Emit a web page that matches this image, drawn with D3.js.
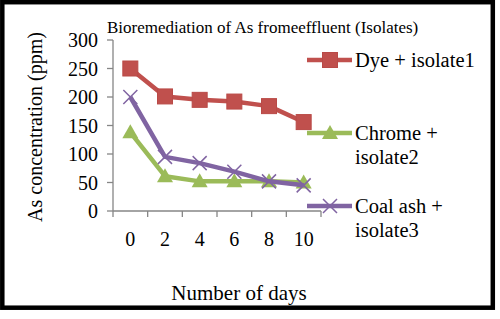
<!DOCTYPE html>
<html lang="en">
<head>
<meta charset="UTF-8">
<title>Bioremediation of As</title>
<script src="https://d3js.org/d3.v7.min.js"></script>
<style>
  body { margin: 0; background: #fff; }
  text { font-family: "Liberation Serif", "Times New Roman", serif; fill: #000; }
</style>
</head>
<body>
<div id="chart"></div>
<script>
const days = ["0", "2", "4", "6", "8", "10"];
const dye = [250, 201, 195, 192, 184, 156];
const chrome = [138, 61, 52, 52, 52, 50];
const coal = [200, 95, 84, 69, 52, 45];
const yTicks = [0, 50, 100, 150, 200, 250, 300];

const series = [
  { name: ["Dye + isolate1"], values: dye, color: "#C0504D", shape: "square" },
  { name: ["Chrome +", "isolate2"], values: chrome, color: "#9BBB59", shape: "triangle" },
  { name: ["Coal ash +", "isolate3"], values: coal, color: "#8064A2", shape: "cross" }
];

const W = 500, H = 319;
const svg = d3.select("#chart").append("svg")
  .attr("width", W).attr("height", H);

// outer frame
svg.append("rect")
  .attr("x", 2.3).attr("y", 2.2).attr("width", 490.5).attr("height", 305.5)
  .attr("fill", "none").attr("stroke", "#000").attr("stroke-width", 4.5);

const x = d3.scaleBand().domain(days).range([113, 321]);
const y = d3.scaleLinear().domain([0, 300]).range([211, 40]);

// axes
const axisColor = "#868686";
const gx = svg.append("g").attr("transform", `translate(0,${y(0)})`);
gx.append("line").attr("x1", x.range()[0]).attr("x2", x.range()[1])
  .attr("stroke", axisColor).attr("stroke-width", 1.3);
gx.selectAll(".tk").data(d3.range(days.length + 1)).join("line")
  .attr("x1", i => x.range()[0] + i * x.step()).attr("x2", i => x.range()[0] + i * x.step())
  .attr("y1", 0).attr("y2", 6).attr("stroke", axisColor).attr("stroke-width", 1.3);
gx.selectAll(".lbl").data(days).join("text")
  .attr("x", d => x(d) + x.bandwidth() / 2).attr("y", 35)
  .attr("text-anchor", "middle").attr("font-size", 20).text(d => d);

const gy = svg.append("g").attr("transform", `translate(${x.range()[0]},0)`);
gy.append("line").attr("y1", y(0)).attr("y2", y(300))
  .attr("stroke", axisColor).attr("stroke-width", 1.3);
gy.selectAll(".tk").data(yTicks).join("line")
  .attr("x1", -6).attr("x2", 0).attr("y1", d => y(d)).attr("y2", d => y(d))
  .attr("stroke", axisColor).attr("stroke-width", 1.3);
gy.selectAll(".lbl").data(yTicks).join("text")
  .attr("x", -15).attr("y", d => y(d) + 7)
  .attr("text-anchor", "end").attr("font-size", 20).text(d => d);

// titles
svg.append("text").attr("x", 107).attr("y", 33)
  .attr("font-size", 17)
  .text("Bioremediation of As fromeeffluent (Isolates)");
svg.append("text").attr("transform", "translate(42,127) rotate(-90)")
  .attr("text-anchor", "middle").attr("font-size", 20)
  .text("As concentration (ppm)");
svg.append("text").attr("x", 239).attr("y", 300)
  .attr("text-anchor", "middle").attr("font-size", 21)
  .text("Number of days");

function marker(g, shape, color) {
  if (shape === "square") {
    g.append("rect").attr("x", -7.5).attr("y", -7.5).attr("width", 15).attr("height", 15)
      .attr("fill", color).attr("stroke", "#b94a47").attr("stroke-width", 1);
  } else if (shape === "triangle") {
    g.append("path").attr("d", "M0,-8L8,6L-8,6Z").attr("fill", color);
  } else {
    g.append("path").attr("d", "M-7,-7L7,7M-7,7L7,-7")
      .attr("stroke", color).attr("stroke-width", 1.5).attr("fill", "none");
  }
}

const line = d3.line().x((d, i) => x(days[i]) + x.bandwidth() / 2).y(d => y(d));

series.forEach(s => {
  svg.append("path").datum(s.values).attr("d", line)
    .attr("fill", "none").attr("stroke", s.color).attr("stroke-width", 4.5)
    .attr("stroke-linejoin", "round");
  s.values.forEach((v, i) => {
    const g = svg.append("g")
      .attr("transform", `translate(${x(days[i]) + x.bandwidth() / 2},${y(v)})`);
    marker(g, s.shape, s.color);
  });
});

// legend
const legendY = [60, 133, 206];
series.forEach((s, k) => {
  const g = svg.append("g").attr("transform", `translate(307,${legendY[k]})`);
  g.append("line").attr("x1", 0).attr("x2", 45).attr("stroke", s.color).attr("stroke-width", 4.5);
  const m = g.append("g").attr("transform", "translate(23,0)");
  marker(m, s.shape, s.color);
  s.name.forEach((t, j) => {
    g.append("text").attr("x", 48).attr("y", 7 + j * 24)
      .attr("font-size", 20.5).text(t);
  });
});
</script>
</body>
</html>
